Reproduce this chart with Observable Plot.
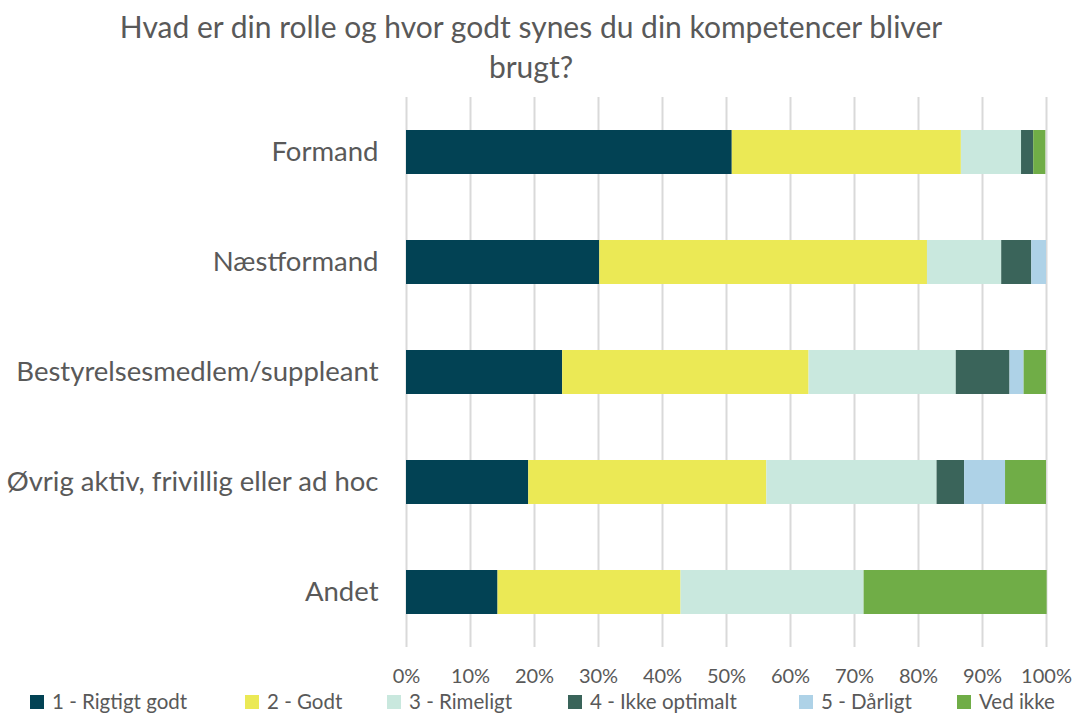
<!DOCTYPE html>
<html>
<head>
<meta charset="utf-8">
<script src="https://cdn.jsdelivr.net/npm/d3@7"></script>
<script src="https://cdn.jsdelivr.net/npm/@observablehq/plot@0.6"></script>
<style>
  html, body { margin: 0; padding: 0; background: #fff; width: 1079px; height: 714px; overflow: hidden; position: relative; font-family: Lato, "Open Sans", sans-serif; color: #595959; }
  #title { position: absolute; left: 0; top: 6px; width: 1062px; text-align: center; font-size: 30px; line-height: 40px; color: #595959; }
  #chart { position: absolute; left: 0; top: 90px; }
  #legend { position: absolute; left: 0; top: 689px; width: 1079px; height: 25px; font-size: 20.5px; line-height: 25px; color: #595959; }
  .item { position: absolute; top: 0; height: 25px; white-space: nowrap; display: flex; align-items: center; }
  .sw { width: 14px; height: 14px; margin-right: 8px; display: inline-block; }
</style>
</head>
<body>
<div id="title">Hvad er din rolle og hvor godt synes du din kompetencer bliver<br>brugt?</div>
<div id="chart"></div>
<div id="legend"></div>
<script>
// ---- data ----
const roles = ["Formand", "Næstformand", "Bestyrelsesmedlem/suppleant", "Øvrig aktiv, frivillig eller ad hoc", "Andet"];
const answers = ["1 - Rigtigt godt", "2 - Godt", "3 - Rimeligt", "4 - Ikke optimalt", "5 - Dårligt", "Ved ikke"];
const rigtigtGodt = [50.9, 30.2, 24.4, 19.1, 14.3];
const godt        = [35.8, 51.2, 38.5, 37.2, 28.6];
const rimeligt    = [9.4, 11.6, 23.0, 26.6, 28.6];
const ikkeOptimalt= [1.9, 4.7, 8.4, 4.3, 0];
const daarligt    = [0, 2.3, 2.2, 6.4, 0];
const vedIkke     = [1.9, 0, 3.5, 6.4, 28.6];
const xTicks = [0, 10, 20, 30, 40, 50, 60, 70, 80, 90, 100];
const colors = ["#024254", "#ebe955", "#c9e8de", "#3a645a", "#aed2e7", "#70ad47"];

const series = [rigtigtGodt, godt, rimeligt, ikkeOptimalt, daarligt, vedIkke];
const data = [];
roles.forEach((r, i) => answers.forEach((a, j) => data.push({role: r, answer: a, value: series[j][i]})));

const chart = Plot.plot({
  width: 1079,
  height: 597,
  marginLeft: 406,
  marginRight: 33,
  marginTop: 7,
  marginBottom: 40,
  style: { fontFamily: "Lato, 'Open Sans', sans-serif", color: "#595959", background: "#fff" },
  x: { domain: [0, 100], ticks: xTicks, tickFormat: d => d + "%", label: null },
  y: { domain: roles, paddingInner: 0.6, paddingOuter: 0.3, label: null },
  color: { domain: answers, range: colors },
  marks: [
    Plot.gridX(xTicks, { stroke: "#d9d9d9", strokeOpacity: 1, strokeWidth: 2 }),
    Plot.barX(data, Plot.stackX({ x: "value", y: "role", fill: "answer", order: answers })),
    Plot.axisX(xTicks, { tickSize: 0, tickPadding: 21, fontSize: 20, tickFormat: d => d + "%", fill: "#595959", label: null }),
    Plot.axisY(roles, { tickSize: 0, tickPadding: 28, fontSize: 27.5, fill: "#595959", label: null })
  ]
});
document.getElementById("chart").appendChild(chart);

// legend
const legendLeft = [30, 245, 387, 568, 799, 957];
const lg = document.getElementById("legend");
answers.forEach((a, i) => {
  const d = document.createElement("div");
  d.className = "item";
  d.style.left = legendLeft[i] + "px";
  d.innerHTML = `<span class="sw" style="background:${colors[i]}"></span><span>${a}</span>`;
  lg.appendChild(d);
});
</script>
</body>
</html>
